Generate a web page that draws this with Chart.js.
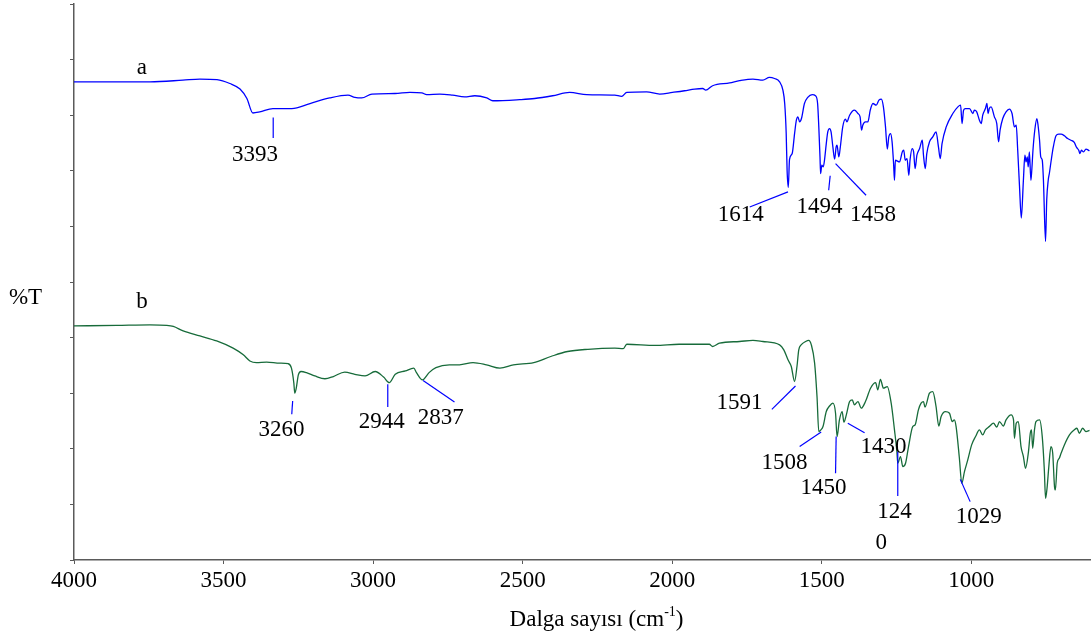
<!DOCTYPE html>
<html>
<head>
<meta charset="utf-8">
<title>IR spektrumları</title>
<script src="https://cdn.jsdelivr.net/npm/chart.js@4.4.0/dist/chart.umd.min.js"></script>
<style>
    html, body { margin: 0; padding: 0; background: #fff; }
    #irChart { display: block; }
</style>
</head>
<body>
<canvas id="irChart" width="1091" height="639"></canvas>
<script>
// Tick labels on the wavenumber axis
const xTicks = [4000, 3500, 3000, 2500, 2000, 1500, 1000];

// Spectrum a (blue)
const aWave = [4000,3746,3636,3579,3522,3479,3445,3422,3402,3379,
    3335,3272,3211,3145,3084,3061,3038,3004,2927,2877,
    2837,2821,2777,2734,2694,2660,2620,2600,2510,2460,
    2400,2343,2286,2192,2169,2152,2086,2042,1999,1959,
    1925,1898,1888,1865,1808,
    1775,1730,1697,1675,1658,1641,1630,1624,1619,1616,
    1612,1608,1599,1591,1585,1580,1574,1568,1558,1547,
    1532,1521,1514,1510,1506,1504,1500,1495,1491,1485,
    1480,1474,1469,1463,1457,1452,1449,1443,1438,1430,
    1421,1416,1407,1391,1379,1372,1367,1363,1354,1346,
    1338,1329,1318,1309,1301,1294,1287,1281,1276,1270,
    1265,1260,1257,1254,1240,1231,1226,1221,1215,1209,
    1205,1198,1193,1188,1182,1173,1164,1160,1154,1149,
    1140,1129,1118,1110,1104,1098,1084,1062,1045,1036,
    1031,1026,1020,1006,995,990,982,973,967,962,
    953,948,944,940,934,923,915,909,904,895,
    884,873,864,856,850,845,839,833,826,821,
    817,813,810,806,801,798,794,788,781,777,
    772,768,763,759,752,748,743,739,733,726,
    717,708,700,689,678,667,656,648,641,637,
    632,625,617,605];
const aTrans = [86.0,86.0,86.3,86.5,86.4,85.7,84.7,83.0,80.4,80.6,
    81.2,81.2,82.1,83.1,83.6,83.2,83.1,83.8,83.9,84.1,
    84.0,83.7,83.8,83.6,83.3,83.5,83.1,82.6,82.8,83.0,
    83.5,84.1,83.7,83.6,83.4,84.1,84.2,83.8,84.1,84.4,
    84.7,84.8,84.5,85.3,85.8,
    86.2,86.5,86.3,86.8,86.6,86.0,84.5,82.1,76.7,70.1,
    67.0,72.0,73.1,76.7,79.1,79.7,78.8,79.4,82.1,83.2,
    83.7,83.5,82.1,77.9,72.5,69.5,71.0,70.7,71.9,74.9,
    77.0,77.6,77.0,74.3,72.1,74.3,74.6,72.5,74.3,77.9,
    79.3,78.8,80.0,80.9,80.3,79.7,77.3,78.2,78.8,78.8,
    80.9,82.1,81.8,82.7,82.9,81.5,77.9,73.9,76.1,76.7,
    75.2,71.3,68.3,71.9,71.6,73.4,73.7,71.9,72.2,69.2,
    71.9,74.0,73.4,70.4,72.8,74.0,75.5,72.8,70.4,73.1,
    75.2,76.1,77.0,74.3,72.2,74.9,77.9,80.3,81.5,81.8,
    78.5,80.9,81.2,81.2,80.3,80.9,80.6,79.1,78.5,80.0,
    81.2,82.1,80.3,81.2,81.5,79.7,78.5,75.2,77.3,79.4,
    80.6,81.1,80.3,77.9,78.2,73.7,67.2,61.5,68.3,72.8,
    71.6,72.5,70.7,73.4,68.3,70.1,73.7,77.3,79.4,78.2,
    75.5,72.5,71.9,68.3,57.3,64.8,68.3,69.6,71.9,74.3,
    76.3,76.6,76.6,76.3,75.8,75.5,75.1,74.2,73.7,73.1,
    73.7,73.4,73.9,73.6];

// Spectrum b (green)
const bWave = [4000,3857,3746,3690,3668,3635,3579,3523,3468,3434,
    3412,3390,3356,3312,3284,3273,3265,3262,3257,3250,
    3241,3223,3195,3161,3133,3095,3061,3027,2993,2965,
    2946,2926,2892,2864,2855,2835,2813,2790,2745,2711,
    2666,2621,2576,2531,2463,2406,2350,2282,2192,2164,
    2152,2057,1977,1876,1865,1842,1775,1730,1697,1641,
    1627,1613,1602,1591,1583,1577,1569,1554,1544,1535,
    1524,1516,1510,1503,1496,1485,1474,1463,1454,1449,
    1441,1432,1426,1418,1407,1398,1391,1379,1368,1354,
    1337,1320,1313,1304,1294,1281,1268,1257,1249,1246,
    1237,1229,1220,1210,1196,1188,1177,1168,1160,1155,
    1140,1129,1118,1109,1101,1087,1073,1064,1057,1051,
    1040,1032,1023,1012,999,986,973,962,953,940,
    926,915,906,893,884,867,859,856,850,843,
    834,826,819,809,803,799,795,789,784,772,
    763,756,752,747,741,734,728,722,719,713,
    706,700,689,672,656,647,639,628,617,605];
const bTrans = [42.1,42.2,42.3,42.2,42.0,41.2,40.3,39.4,38.1,36.9,
    35.8,35.5,35.6,35.4,35.3,34.5,31.8,30.0,30.9,33.3,
    33.9,33.7,33.1,32.6,33.0,33.8,33.4,33.1,33.9,32.9,
    31.9,33.4,34.0,34.5,33.7,32.4,33.7,34.6,35.1,35.1,
    35.5,35.1,34.5,35.1,35.5,36.6,37.5,37.9,38.1,38.0,
    38.8,38.6,38.8,38.8,38.4,39.0,39.3,39.5,39.3,38.7,
    37.8,36.0,34.8,32.1,34.8,37.8,38.7,39.3,39.5,38.7,
    35.4,29.4,23.1,23.4,24.0,26.7,27.7,28.2,26.4,22.2,
    25.2,26.7,24.8,26.1,28.5,28.8,27.9,28.5,27.3,28.5,
    30.9,31.9,30.6,32.5,30.9,31.2,28.2,23.4,19.5,17.4,
    18.6,16.8,17.4,20.4,24.0,24.3,27.0,28.2,28.5,27.5,
    30.0,30.3,27.6,24.1,25.8,26.7,26.4,24.9,25.2,24.0,
    18.3,13.8,15.9,18.0,20.7,22.2,23.4,22.5,23.4,24.0,
    24.6,23.9,24.9,24.1,25.2,26.1,25.2,21.9,24.6,24.9,
    20.4,18.6,16.5,19.5,22.8,23.4,20.1,23.4,24.9,25.2,
    22.2,16.2,11.1,12.9,16.8,20.4,19.2,13.2,12.6,17.4,
    18.3,19.2,20.7,22.5,23.4,23.7,22.8,23.7,23.1,23.3];

// Peak labels, anchored in (wavenumber, %T)
const peakText = ['a', 'b', '3393', '1614', '1494', '1458', '3260', '2944', '2837', '1591', '1508', '1450', '1430', '124', '0', '1029', '%T'];
const peakWave = [3773, 3773, 3395, 1771, 1508, 1329, 3306, 2971, 2774, 1775, 1625, 1494, 1294, 1257, 1301, 975, 4162];
const peakTrans = [88.5, 46.4, 72.8, 62.1, 63.5, 62.1, 23.4, 24.9, 25.6, 28.2, 17.4, 12.9, 20.4, 8.7, 3.0, 7.7, 47.1];

// Leader lines from label to peak
const leadFromWave = [3334, 1741, 1477, 1454, 3269, 2951, 2833, 1667, 1574, 1452, 1413, 1246, 1037];
const leadFromTrans = [79.6, 63.5, 66.5, 71.3, 28.6, 31.6, 32.3, 27.1, 20.4, 22.2, 24.6, 19.5, 14.5];
const leadToWave = [3334, 1613, 1472, 1352, 3272, 2951, 2728, 1588, 1502, 1454, 1357, 1246, 1004];
const leadToTrans = [75.9, 66.2, 69.1, 65.6, 26.2, 27.5, 28.4, 31.3, 23.0, 15.6, 22.9, 11.5, 10.5];

const titleWave = 2253; // centre of the axis title

const serif = 'Liberation Serif';

function toPoints(xs, ys) {
    const n = Math.min(xs.length, ys.length);
    const pts = [];
    for (let i = 0; i < n; i++) pts.push({ x: xs[i], y: ys[i] });
    return pts;
}

// Draws peak labels, leader lines and the axis title
const annotations = {
    id: 'annotations',
    afterDraw(chart) {
        const ctx = chart.ctx;
        const xs = chart.scales.x;
        const ys = chart.scales.y;
        ctx.save();

        ctx.strokeStyle = '#0000ff';
        ctx.lineWidth = 1.2;
        for (let i = 0; i < leadFromWave.length; i++) {
            ctx.beginPath();
            ctx.moveTo(xs.getPixelForValue(leadFromWave[i]), ys.getPixelForValue(leadFromTrans[i]));
            ctx.lineTo(xs.getPixelForValue(leadToWave[i]), ys.getPixelForValue(leadToTrans[i]));
            ctx.stroke();
        }

        ctx.fillStyle = '#000';
        ctx.font = `23px "${serif}"`;
        ctx.textAlign = 'center';
        ctx.textBaseline = 'middle';
        peakText.forEach((t, i) => {
            ctx.fillText(t, xs.getPixelForValue(peakWave[i]), ys.getPixelForValue(peakTrans[i]));
        });

        // Axis title with superscript
        const main = 'Dalga sayısı (cm';
        const sup = '-1';
        const tail = ')';
        ctx.font = `23px "${serif}"`;
        const wMain = ctx.measureText(main).width;
        const wTail = ctx.measureText(tail).width;
        ctx.font = `14px "${serif}"`;
        const wSup = ctx.measureText(sup).width;
        const total = wMain + wSup + wTail;
        let x = xs.getPixelForValue(titleWave) - total / 2;
        const y = xs.bottom - 19;
        ctx.textAlign = 'left';
        ctx.font = `23px "${serif}"`;
        ctx.fillText(main, x, y);
        x += wMain;
        ctx.font = `14px "${serif}"`;
        ctx.fillText(sup, x, y - 8);
        x += wSup;
        ctx.font = `23px "${serif}"`;
        ctx.fillText(tail, x, y);

        ctx.restore();
    }
};

const ctx = document.getElementById('irChart').getContext('2d');
const irChart = new Chart(ctx, {
    type: 'line',
    data: {
        datasets: [{
            label: 'a',
            data: toPoints(aWave, aTrans),
            borderColor: '#0000ff',
            borderWidth: 1.3,
            pointRadius: 0,
            fill: false,
            cubicInterpolationMode: 'monotone'
        }, {
            label: 'b',
            data: toPoints(bWave, bTrans),
            borderColor: '#176b3a',
            borderWidth: 1.3,
            pointRadius: 0,
            fill: false,
            cubicInterpolationMode: 'monotone'
        }]
    },
    options: {
        responsive: false,
        animation: false,
        layout: { padding: { top: 4, right: 0, bottom: 0, left: 0 } },
        plugins: {
            legend: { display: false },
            tooltip: { enabled: false }
        },
        scales: {
            x: {
                type: 'linear',
                reverse: true,
                min: 600,
                max: 4000,
                afterBuildTicks: (scale) => { scale.ticks = xTicks.map(v => ({ value: v })); },
                afterFit: (scale) => { scale.height = 79; },
                border: { color: '#5a5a5a', width: 1.5 },
                grid: { drawOnChartArea: false, tickLength: 4, color: '#5a5a5a' },
                ticks: {
                    autoSkip: false,
                    maxRotation: 0,
                    padding: 3,
                    color: '#000',
                    font: { family: serif, size: 23 },
                    callback: (v) => String(v)
                }
            },
            y: {
                min: 0,
                max: 100,
                afterFit: (scale) => { scale.width = 74; },
                border: { color: '#5a5a5a', width: 1.5 },
                grid: { drawOnChartArea: false, tickLength: 4, color: '#5a5a5a' },
                ticks: { display: false, stepSize: 10 }
            }
        }
    },
    plugins: [annotations]
});
</script>
</body>
</html>
